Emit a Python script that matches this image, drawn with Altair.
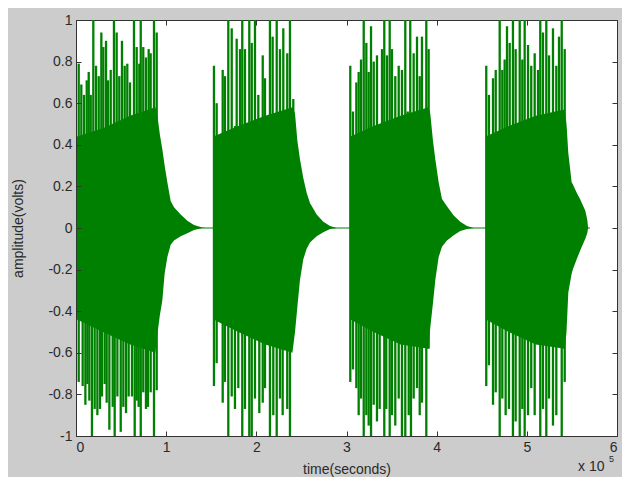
import altair as alt
import pandas as pd

GREEN = "#008000"

# ---- waveform envelope (x in units of 1e5 s, amplitude in volts) ----
seg1_x = [0.01, 0.30, 0.60, 0.88, 0.90, 0.93, 0.957, 0.983, 1.013, 1.05, 1.087, 1.161, 1.235, 1.309, 1.40, 1.44]
seg1_hi = [0.44, 0.48, 0.54, 0.58, 0.55, 0.45, 0.38, 0.30, 0.22, 0.13, 0.10, 0.065, 0.035, 0.014, 0.003, 0.0]
seg1_lo = [-0.44, -0.50, -0.56, -0.60, -0.52, -0.42, -0.35, -0.22, -0.14, -0.08, -0.06, -0.04, -0.025, -0.01, 0.0, 0.0]

seg2_x = [1.525, 1.80, 2.10, 2.40, 2.429, 2.455, 2.484, 2.521, 2.558, 2.595, 2.669, 2.743, 2.817, 2.891]
seg2_hi = [0.44, 0.49, 0.54, 0.58, 0.55, 0.42, 0.33, 0.24, 0.17, 0.12, 0.065, 0.03, 0.01, 0.0]
seg2_lo = [-0.44, -0.50, -0.56, -0.60, -0.50, -0.38, -0.25, -0.15, -0.10, -0.07, -0.04, -0.02, -0.005, 0.0]

seg3_x = [3.044, 3.30, 3.60, 3.91, 3.929, 3.959, 3.985, 4.022, 4.059, 4.114, 4.189, 4.262, 4.336, 4.411]
seg3_hi = [0.44, 0.49, 0.54, 0.58, 0.55, 0.42, 0.33, 0.22, 0.14, 0.105, 0.06, 0.03, 0.01, 0.0]
seg3_lo = [-0.44, -0.50, -0.56, -0.58, -0.48, -0.36, -0.25, -0.14, -0.09, -0.06, -0.035, -0.015, -0.005, 0.0]

seg4_x = [4.545, 4.80, 5.10, 5.42, 5.44, 5.46, 5.497, 5.51, 5.553, 5.59, 5.60, 5.645, 5.65, 5.67, 5.68]
seg4_hi = [0.44, 0.49, 0.54, 0.57, 0.50, 0.36, 0.22, 0.21, 0.17, 0.14, 0.13, 0.087, 0.08, 0.04, 0.0]
seg4_lo = [-0.44, -0.50, -0.56, -0.58, -0.50, -0.31, -0.22, -0.20, -0.15, -0.11, -0.10, -0.055, -0.05, -0.025, 0.0]

# ---- positive peaks ----
up_x = [0.030, 0.059, 0.089, 0.119, 0.141, 0.163, 0.192, 0.222, 0.252, 0.281, 0.303, 0.333, 0.355, 0.385,
        0.421, 0.451, 0.480, 0.510, 0.540, 0.569, 0.599, 0.643, 0.673, 0.702, 0.718, 0.746, 0.776, 0.806,
        0.828, 0.865, 0.895,
        1.530, 1.560, 1.627, 1.652, 1.689, 1.727, 1.763, 1.782, 1.819, 1.844, 1.874, 1.922, 1.949, 1.985,
        2.022, 2.071, 2.096, 2.151, 2.181, 2.226, 2.262, 2.299, 2.343, 2.373, 2.410,
        3.042, 3.072, 3.109, 3.135, 3.161, 3.191, 3.220, 3.246, 3.272, 3.302, 3.338, 3.368, 3.394, 3.419,
        3.449, 3.479, 3.504, 3.541, 3.579, 3.615, 3.652, 3.679, 3.707, 3.745, 3.782, 3.812, 3.837, 3.885, 3.911,
        4.550, 4.580, 4.625, 4.655, 4.699, 4.728, 4.754, 4.780, 4.810, 4.846, 4.876, 4.921, 4.950, 4.976,
        5.013, 5.049, 5.087, 5.124, 5.149, 5.179, 5.216, 5.246, 5.290, 5.327, 5.357, 5.387, 5.420]
up_v = [0.79, 0.69, 0.64, 0.71, 0.75, 0.64, 1.0, 0.78, 0.73, 0.94, 0.87, 0.90, 0.71, 0.76,
        1.0, 0.94, 0.73, 0.90, 0.78, 0.79, 0.70, 1.0, 0.87, 0.79, 1.0, 0.87, 0.82, 0.86,
        0.84, 1.0, 0.94,
        0.78, 0.60, 0.76, 0.73, 1.0, 0.96, 0.49, 0.91, 0.86, 1.0, 0.86, 1.0, 0.89, 1.0,
        0.64, 0.83, 0.72, 1.0, 0.92, 1.0, 0.86, 0.96, 0.84, 1.0, 0.62,
        0.78, 0.56, 0.70, 0.75, 0.81, 1.0, 0.89, 0.75, 0.97, 0.80, 0.83, 0.48, 0.86, 1.0,
        0.83, 1.0, 0.86, 0.73, 0.78, 0.76, 1.0, 0.56, 1.0, 0.84, 0.92, 0.73, 0.92, 1.0, 0.86,
        0.78, 0.64, 0.72, 0.76, 1.0, 0.76, 0.81, 0.97, 0.89, 1.0, 0.86, 1.0, 0.81, 1.0,
        0.88, 0.78, 0.84, 0.76, 1.0, 0.94, 1.0, 0.83, 0.96, 0.78, 0.92, 1.0, 0.86]

# ---- negative peaks ----
dn_x = [0.030, 0.074, 0.104, 0.126, 0.148, 0.177, 0.207, 0.237, 0.266, 0.288, 0.318, 0.340, 0.370, 0.407,
        0.429, 0.459, 0.496, 0.525, 0.555, 0.584, 0.621, 0.651, 0.673, 0.695, 0.718, 0.746, 0.776, 0.798,
        0.828, 0.865, 0.895,
        1.530, 1.560, 1.627, 1.652, 1.689, 1.727, 1.763, 1.800, 1.844, 1.874, 1.922, 1.949, 1.985, 2.033,
        2.071, 2.096, 2.151, 2.188, 2.226, 2.262, 2.292, 2.343, 2.373,
        3.042, 3.072, 3.109, 3.135, 3.161, 3.191, 3.220, 3.246, 3.272, 3.302, 3.338, 3.368, 3.419, 3.441,
        3.479, 3.504, 3.541, 3.579, 3.615, 3.652, 3.690, 3.715, 3.745, 3.782, 3.812, 3.837, 3.885, 3.911,
        4.550, 4.580, 4.625, 4.655, 4.699, 4.728, 4.765, 4.802, 4.846, 4.876, 4.921, 4.950, 4.976, 5.013,
        5.049, 5.087, 5.149, 5.179, 5.216, 5.246, 5.290, 5.327, 5.387, 5.420]
dn_v = [-0.74, -0.76, -0.85, -0.75, -0.83, -1.0, -0.87, -0.90, -0.87, -0.81, -0.75, -0.84, -0.97, -0.86,
        -1.0, -0.81, -0.98, -0.86, -0.89, -0.81, -0.81, -1.0, -0.83, -0.86, -1.0, -0.79, -0.87, -0.86,
        -0.79, -1.0, -0.78,
        -0.76, -0.65, -0.84, -0.74, -1.0, -0.81, -0.87, -0.77, -1.0, -0.87, -1.0, -1.0, -0.82, -0.89,
        -0.84, -0.77, -1.0, -0.90, -1.0, -0.82, -0.90, -0.87, -1.0,
        -0.74, -0.68, -0.77, -0.90, -0.82, -1.0, -0.90, -0.95, -1.0, -0.85, -0.93, -0.87, -1.0, -0.87,
        -1.0, -0.90, -0.95, -0.82, -1.0, -1.0, -0.90, -1.0, -0.82, -0.77, -0.90, -0.84, -1.0, -0.58,
        -0.76, -0.66, -0.85, -0.79, -1.0, -0.82, -0.90, -0.87, -1.0, -0.93, -1.0, -0.87, -1.0, -0.90,
        -0.77, -0.90, -1.0, -0.87, -1.0, -0.82, -0.95, -0.90, -1.0, -0.74]

# silent stretch drawn as a flat line at zero
zero_x = [0.0, 5.70]
zero_v = [0.0, 0.0]

x_ticks = [0, 1, 2, 3, 4, 5, 6]
y_ticks = [-1.0, -0.8, -0.6, -0.4, -0.2, 0.0, 0.2, 0.4, 0.6, 0.8, 1.0]

# ---- tables ----
body = pd.concat([
    pd.DataFrame({"seg": s, "x": xs, "hi": hs, "lo": ls})
    for s, xs, hs, ls in [(1, seg1_x, seg1_hi, seg1_lo), (2, seg2_x, seg2_hi, seg2_lo),
                          (3, seg3_x, seg3_hi, seg3_lo), (4, seg4_x, seg4_hi, seg4_lo)]
])
spikes = pd.DataFrame({"x": up_x + dn_x, "v": up_v + dn_v, "base": 0.0})
zero = pd.DataFrame({"x": zero_x, "v": zero_v})

xs = alt.Scale(domain=[0, 6], nice=False, zero=False)
ys = alt.Scale(domain=[-1, 1], nice=False, zero=False)

TXT = "#2a2a2a"
axis_common = dict(
    labelFont="Liberation Sans", labelFontSize=14, labelColor=TXT,
    titleFont="Liberation Sans", titleFontSize=14, titleFontWeight="normal", titleColor=TXT,
    tickColor="#333333", tickSize=5, tickWidth=1, domain=False, grid=False, offset=-5, zindex=1,
)

area = alt.Chart(body).mark_area(color=GREEN, interpolate="linear", strokeWidth=0).encode(
    x=alt.X("x:Q", scale=xs, axis=alt.Axis(values=x_ticks, title="time(seconds)", labelPadding=4,
                                           titlePadding=8, **axis_common)),
    y=alt.Y("hi:Q", scale=ys, axis=alt.Axis(values=y_ticks, title="amplitude(volts)", labelPadding=4,
                                            titlePadding=22,
                                            labelExpr="toString(round(datum.value*10)/10)", **axis_common)),
    y2="lo:Q",
    detail="seg:N",
)

rules = alt.Chart(spikes).mark_rule(color=GREEN, strokeWidth=2.3).encode(
    x=alt.X("x:Q", scale=xs, axis=None),
    y=alt.Y("v:Q", scale=ys, axis=None),
    y2="base:Q",
)

zline = alt.Chart(zero).mark_line(color=GREEN, strokeWidth=1.2).encode(
    x=alt.X("x:Q", scale=xs, axis=alt.Axis(orient="top", values=x_ticks, labels=False, title=None,
                                           **axis_common)),
    y=alt.Y("v:Q", scale=ys, axis=alt.Axis(orient="right", values=y_ticks, labels=False, title=None,
                                           **axis_common)),
)

exp_base = alt.Chart(pd.DataFrame({"t": ["x 10"]})).mark_text(
    font="Liberation Sans", fontSize=14, color=TXT, align="left", baseline="middle"
).encode(text="t:N", x=alt.value(502), y=alt.value(447))
exp_pow = alt.Chart(pd.DataFrame({"t": ["5"]})).mark_text(
    font="Liberation Sans", fontSize=9, color=TXT, align="left", baseline="middle"
).encode(text="t:N", x=alt.value(533), y=alt.value(439))

chart = alt.layer(area, rules, zline, exp_base, exp_pow).resolve_axis(
    x="independent", y="independent"
).properties(
    width=541, height=416, background="#cccccc",
    padding={"left": 68, "top": 12, "right": 5, "bottom": 41},
    autosize=alt.AutoSizeParams(type="none"),
).configure_view(fill="white", stroke="#333333", strokeWidth=1)

chart.save("out.html", embed_options={"renderer": "svg", "actions": False})
